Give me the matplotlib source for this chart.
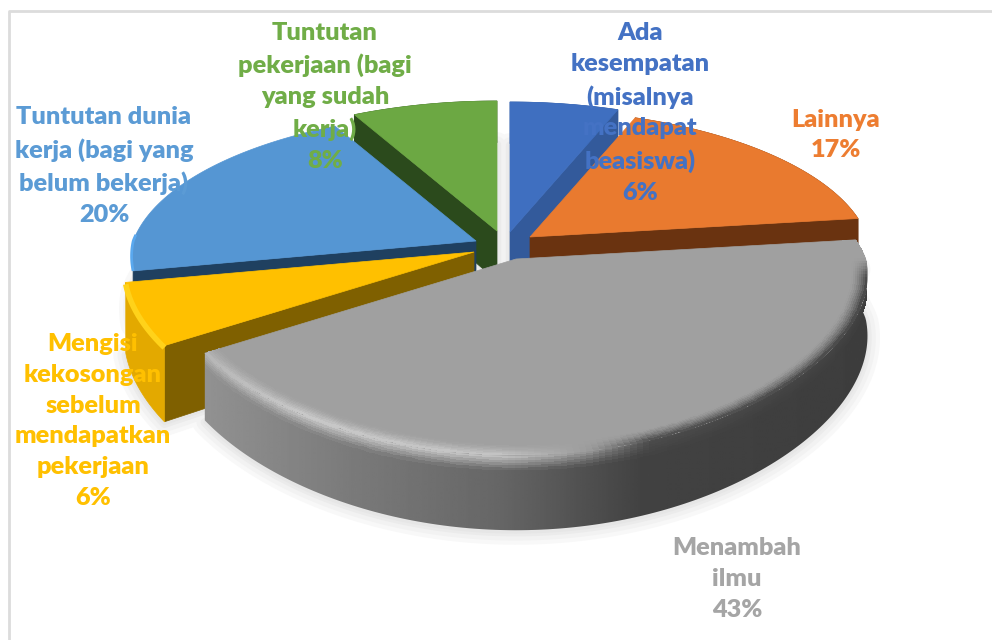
import numpy as np
import matplotlib
matplotlib.use("Agg")
import matplotlib.pyplot as plt
from matplotlib.patches import Polygon

# ---- data ----
names = ["Ada\nkesempatan\n(misalnya\nmendapat\nbeasiswa)", "Lainnya", "Menambah\nilmu",
         "Mengisi\nkekosongan\nsebelum\nmendapatkan\npekerjaan",
         "Tuntutan dunia\nkerja (bagi yang\nbelum bekerja)",
         "Tuntutan\npekerjaan (bagi\nyang sudah\nkerja)"]
values = [6, 17, 43, 6, 20, 8]

# ---- style ----
top_colors = ["#3f6fc0", "#e97a2f", "#a0a0a0", "#ffc000", "#5596d3", "#6ca843"]
wall_colors = ["#335a9b", "#6a3310", "#666666", "#7f6000", "#1f4060", "#2b4a1c"]
text_colors = ["#4472c4", "#ed7d31", "#a5a5a5", "#ffc000", "#5b9bd5", "#70ad47"]
apex = [(510, 232), (530, 237), (516, 259), (474, 252), (476, 241), (497, 231)]
radius_scale = [1.0, 0.97, 1.005, 1.0, 0.985, 1.0]
thickness = [50, 50, 60, 68, 50, 50]
label_xy = [(640, 113), (836, 135), (737, 579), (93, 421), (104, 166), (325, 97)]
draw_order = [5, 0, 4, 1, 3, 2]
visible_edge = {0: "end", 1: "end", 3: "start", 4: "start", 5: "start"}
R, RY = 348.0, 156.0


def project(theta, ax_, ay_, r=1.0):
    u, v = np.sin(theta) * r, -np.cos(theta) * r
    sx = np.where(v < 0, 1 + 0.17 * v, 1 + 0.10 * v)
    sy = 1 / (1 - 0.2 * v)
    return ax_ + R * u * sx, ay_ + RY * v * sy


def scale(v):
    return 1 / (1 - 0.2 * v)


fig = plt.figure(figsize=(9.92, 6.4), dpi=100, facecolor="white")
ax = fig.add_axes([0, 0, 1, 1])
ax.axis("off")

# chart frame (only the top and left edges lie inside the picture)
ax.plot([8.5, 8.5, 992], [640, 10.5, 10.5], color="#dcdcdc", lw=2, zorder=0)

fracs = np.array(values, float) / sum(values)
edges = np.concatenate([[0], np.cumsum(fracs)]) * 2 * np.pi
arcs = [np.linspace(edges[i], edges[i + 1], 160) for i in range(len(values))]

# soft ground shadow
for lw, col in [(18, "#f8f8f8"), (12, "#f2f2f2"), (6, "#ebebeb"), (2, "#e6e6e6")]:
    for i in range(len(values)):
        x, y = project(arcs[i], *apex[i], radius_scale[i])
        dep = thickness[i] * scale(-np.cos(arcs[i]))
        px = np.r_[apex[i][0], x]
        py = np.r_[apex[i][1] + thickness[i], y + dep + 2]
        ax.fill(px, py, facecolor=col, edgecolor=col, lw=lw, joinstyle="round", zorder=1)

z = 2
for i in draw_order:
    th = arcs[i]
    ax_, ay_ = apex[i]
    rs = radius_scale[i]
    T = thickness[i]
    x, y = project(th, ax_, ay_, rs)
    v = -np.cos(th)
    dep = T * scale(v)
    # radial wall
    if i in visible_edge:
        j = 0 if visible_edge[i] == "start" else -1
        ax.fill([ax_, x[j], x[j], ax_], [ay_, y[j], y[j] + dep[j], ay_ + T],
                color=wall_colors[i], lw=0.5, zorder=z)
        z += 1
    if i == 2:
        xs = np.array([205, 350, 500, 640, 870])
        base = np.array([.57, .48, .40, .26, .24])
        hlx = np.array([205, 300, 500, 590, 650, 870])
        hl = np.array([.72, .80, .78, .60, .30, .26])
        # outer wall: horizontal gradient clipped to the wall outline
        grad_x = np.linspace(190, 880, 346)
        grad = np.interp(grad_x, xs, base)[None, :]
        im = ax.imshow(grad, extent=(190, 880, 560, 230), cmap="gray", vmin=0, vmax=1,
                       aspect="auto", interpolation="bilinear", zorder=z)
        clip = Polygon(np.c_[np.r_[x, x[::-1]], np.r_[y, (y + dep)[::-1]]],
                       closed=True, transform=ax.transData)
        im.set_clip_path(clip)
        z += 1
        # transition from rim to wall
        vf = np.clip(v / 0.12, 0, 1)
        rows_d = np.linspace(0, .2, 7)
        X = np.array([x for _ in rows_d])
        Y = np.array([y + d * dep * vf for d in rows_d])
        xm = 0.5 * (X[:, :-1] + X[:, 1:])[:-1]
        C = np.zeros(xm.shape)
        vm = 0.5 * (vf[:-1] + vf[1:])
        for k in range(C.shape[0]):
            w = (k + .5) / C.shape[0]
            b = np.interp(xm[k], xs, base)
            h = .627 + (np.interp(xm[k], hlx, hl) - .627) * vm
            C[k] = h + (b - h) * w
        ax.pcolormesh(X, Y, np.dstack([C, C, C]), shading="flat", antialiased=False, zorder=z)
        z += 1
        # flat top
        ax.fill(np.r_[ax_, x], np.r_[ay_, y], color=top_colors[i], lw=0.5, zorder=z)
        z += 1
        # soft bevel just inside the rim
        rows_r = np.linspace(.955, 1, 9) * rs
        X, Y = [], []
        for r in rows_r:
            xx, yy = project(th, ax_, ay_, r)
            X.append(xx)
            Y.append(yy)
        X, Y = np.array(X), np.array(Y)
        xm = 0.5 * (X[:, :-1] + X[:, 1:])[:-1]
        C = np.zeros(xm.shape)
        for k in range(C.shape[0]):
            w = (k + .5) / C.shape[0]
            h = .627 + (np.interp(xm[k], hlx, hl) - .627) * vm
            C[k] = .627 + (h - .627) * w ** 1.5
        ax.pcolormesh(X, Y, np.dstack([C, C, C]), shading="flat", antialiased=False, zorder=z)
    else:
        # outer wall (the light-blue one lies hidden behind the yellow slice)
        if i != 4:
            ax.fill(np.r_[x, x[::-1]], np.r_[y, (y + dep)[::-1]],
                    color=("#e3a900" if i == 3 else wall_colors[i]), lw=0.5, zorder=z)
            z += 1
        ax.fill(np.r_[ax_, x], np.r_[ay_, y], color=top_colors[i], lw=0.5, zorder=z)
        if i == 3:
            ax.plot(x, y + 2, color="#ffd21a", lw=4, zorder=z, solid_capstyle="butt")
        if i == 4:
            ax.plot(x[:30], y[:30], color="#5aa8ee", lw=2, zorder=z, solid_capstyle="butt")
    z += 1

for i in range(len(values)):
    ax.text(*label_xy[i], f"{names[i]}\n{values[i]}%", color=text_colors[i], ha="center",
            va="center", family="Lato", fontweight=800, fontsize=18.2, linespacing=1.49,
            zorder=50)

ax.set_xlim(0, 992)
ax.set_ylim(640, 0)
fig.savefig("out.png", dpi=100)
